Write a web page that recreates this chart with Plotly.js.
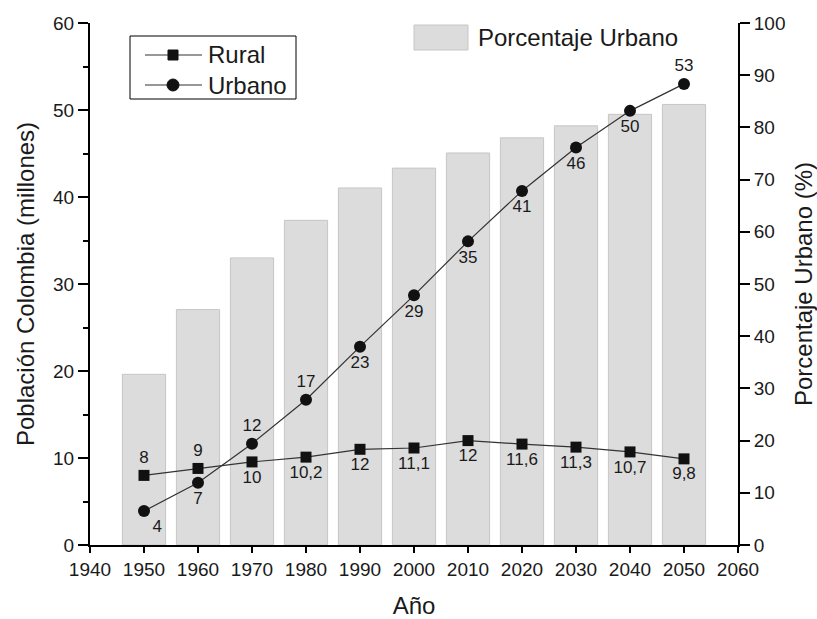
<!DOCTYPE html>
<html>
<head>
<meta charset="utf-8">
<script src="https://cdn.plot.ly/plotly-3.0.1.min.js"></script>
<style>html,body{margin:0;padding:0;background:#fff;}#chart{width:817px;height:619px;}</style>
</head>
<body>
<div id="chart"></div>
<script>
// Data
const years = [1950, 1960, 1970, 1980, 1990, 2000, 2010, 2020, 2030, 2040, 2050];
const rural = [8.0, 8.8, 9.55, 10.1, 11.0, 11.15, 12.0, 11.6, 11.25, 10.7, 9.9];
const urbano = [3.9, 7.15, 11.65, 16.7, 22.8, 28.7, 34.9, 40.7, 45.7, 49.9, 53.0];
const porcentajeUrbano = [32.7, 45.1, 55.0, 62.2, 68.4, 72.2, 75.1, 78.0, 80.3, 82.5, 84.4];
const ruralLabels = ['8', '9', '10', '10,2', '12', '11,1', '12', '11,6', '11,3', '10,7', '9,8'];
const urbanoLabels = ['4', '7', '12', '17', '23', '29', '35', '41', '46', '50', '53'];
const seriesNames = ['Rural', 'Urbano', 'Porcentaje Urbano'];

const ruralPos = ['top center', 'top center', 'bottom center', 'bottom center', 'bottom center', 'bottom center',
  'bottom center', 'bottom center', 'bottom center', 'bottom center', 'bottom center'];
const urbanoPos = ['bottom right', 'bottom center', 'top center', 'top center', 'bottom center', 'bottom center',
  'bottom center', 'bottom center', 'bottom center', 'bottom center', 'top center'];

const FONT = 'Liberation Sans, Arial, sans-serif';
const TXT = '#1a1a1a';
const BAR_FILL = '#dcdcdc', BAR_LINE = '#c6c6c6';

const traces = [
  {
    type: 'bar', x: years, y: porcentajeUrbano, yaxis: 'y', xaxis: 'x',
    width: 8, name: seriesNames[2], showlegend: false,
    marker: {color: BAR_FILL, line: {color: BAR_LINE, width: 1}}
  },
  {
    type: 'scatter', mode: 'lines+markers+text', x: years, y: rural, yaxis: 'y2',
    name: seriesNames[0], text: ruralLabels, textposition: ruralPos, showlegend: false,
    textfont: {family: FONT, size: 17, color: TXT},
    line: {color: '#333', width: 1.2},
    marker: {symbol: 'square', size: 11, color: '#111'},
    cliponaxis: false
  },
  {
    type: 'scatter', mode: 'lines+markers+text', x: years, y: urbano, yaxis: 'y2',
    name: seriesNames[1], text: urbanoLabels, textposition: urbanoPos, showlegend: false,
    textfont: {family: FONT, size: 17, color: TXT},
    line: {color: '#333', width: 1.2},
    marker: {symbol: 'circle', size: 12, color: '#111'},
    cliponaxis: false
  }
];

// paper-coordinate helpers for the hand-drawn legend (plot area 90..738 x, 23..545 y)
const px = v => (v - 90) / 648;
const py = v => (545 - v) / 522;

const layout = {
  width: 817, height: 619,
  margin: {l: 90, r: 79, t: 23, b: 74},
  paper_bgcolor: '#fff', plot_bgcolor: '#fff',
  font: {family: FONT, color: TXT, size: 19},
  showlegend: false,
  xaxis: {
    range: [1940, 2060], tick0: 1940, dtick: 10,
    showgrid: false, zeroline: false,
    showline: true, linecolor: '#000', linewidth: 2,
    ticks: 'outside', ticklen: 6, tickwidth: 2, tickcolor: '#000',
    tickfont: {family: FONT, size: 19, color: TXT},
    title: {text: 'Año', font: {family: FONT, size: 24, color: TXT}, standoff: 18}
  },
  yaxis: {
    range: [0, 100], dtick: 10, side: 'right',
    showgrid: false, zeroline: false,
    showline: true, linecolor: '#000', linewidth: 2,
    ticks: 'outside', ticklen: 10, tickwidth: 2, tickcolor: '#000',
    tickfont: {family: FONT, size: 19, color: TXT},
    title: {text: 'Porcentaje Urbano (%)', font: {family: FONT, size: 24, color: TXT}, standoff: 17}
  },
  yaxis2: {
    range: [0, 60], dtick: 10, side: 'left', overlaying: 'y',
    showgrid: false, zeroline: false,
    showline: true, linecolor: '#000', linewidth: 2,
    ticks: 'outside', ticklen: 10, tickwidth: 2, tickcolor: '#000',
    minor: {dtick: 5, ticks: 'outside', ticklen: 5, tickwidth: 2, tickcolor: '#000', showgrid: false},
    tickfont: {family: FONT, size: 19, color: TXT},
    title: {text: 'Población Colombia (millones)', font: {family: FONT, size: 24, color: TXT}, standoff: 12}
  },
  shapes: [
    // legend box for lines
    {type: 'rect', xref: 'paper', yref: 'paper', x0: px(130), x1: px(296), y0: py(99), y1: py(36),
     line: {color: '#000', width: 1}, fillcolor: 'rgba(0,0,0,0)'},
    {type: 'line', xref: 'paper', yref: 'paper', x0: px(145), x1: px(202), y0: py(55), y1: py(55),
     line: {color: '#333', width: 1.2}},
    {type: 'rect', xref: 'paper', yref: 'paper', x0: px(168), x1: px(178), y0: py(60), y1: py(50),
     fillcolor: '#111', line: {color: '#111', width: 1}},
    {type: 'line', xref: 'paper', yref: 'paper', x0: px(145), x1: px(202), y0: py(85), y1: py(85),
     line: {color: '#333', width: 1.2}},
    {type: 'circle', xref: 'paper', yref: 'paper', x0: px(167), x1: px(179), y0: py(91), y1: py(79),
     fillcolor: '#111', line: {color: '#111', width: 1}},
    // legend swatch for bars
    {type: 'rect', xref: 'paper', yref: 'paper', x0: px(414), x1: px(468), y0: py(50), y1: py(25),
     fillcolor: BAR_FILL, line: {color: BAR_LINE, width: 1}}
  ],
  annotations: [
    {xref: 'paper', yref: 'paper', x: px(206), y: py(55), xanchor: 'left', yanchor: 'middle',
     text: seriesNames[0], showarrow: false, font: {family: FONT, size: 24, color: TXT}},
    {xref: 'paper', yref: 'paper', x: px(206), y: py(85), xanchor: 'left', yanchor: 'middle',
     text: seriesNames[1], showarrow: false, font: {family: FONT, size: 24, color: TXT}},
    {xref: 'paper', yref: 'paper', x: px(476), y: py(37), xanchor: 'left', yanchor: 'middle',
     text: seriesNames[2], showarrow: false, font: {family: FONT, size: 24, color: TXT}}
  ]
};

Plotly.newPlot('chart', traces, layout, {displayModeBar: false, staticPlot: true});
</script>
</body>
</html>
